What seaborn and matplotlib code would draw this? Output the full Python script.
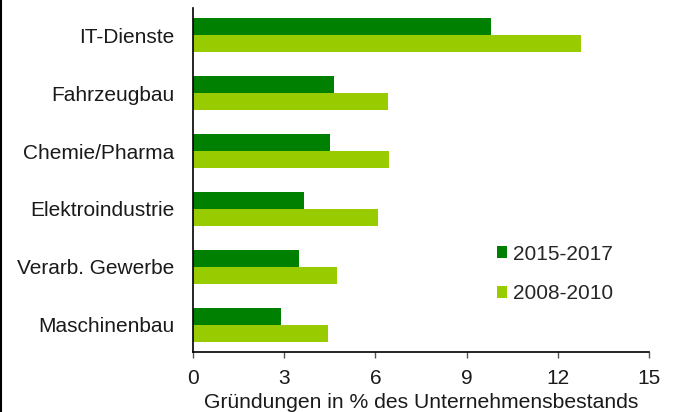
import matplotlib
matplotlib.use("Agg")
import matplotlib.pyplot as plt
from matplotlib.lines import Line2D
import pandas as pd
import seaborn as sns

# Industries and start-up rates (start-ups as % of existing firms)
branchen = ["IT-Dienste", "Fahrzeugbau", "Chemie/Pharma",
            "Elektroindustrie", "Verarb. Gewerbe", "Maschinenbau"]
werte_2015_2017 = [9.8, 4.65, 4.5, 3.65, 3.5, 2.9]
werte_2008_2010 = [12.75, 6.4, 6.45, 6.1, 4.75, 4.45]
zeitraeume = ["2015-2017", "2008-2010"]
farben = ["#008000", "#99CC00"]
x_ticks = [0, 3, 6, 9, 12, 15]
x_label = "Gründungen in % des Unternehmensbestands"

df = pd.DataFrame({
    "Branche": branchen * 2,
    "Wert": werte_2015_2017 + werte_2008_2010,
    "Zeitraum": [zeitraeume[0]] * len(branchen) + [zeitraeume[1]] * len(branchen),
})

sns.set_theme(style="white")
plt.rcParams["font.family"] = ["Liberation Sans", "DejaVu Sans"]

fig = plt.figure(figsize=(6.74, 4.12), dpi=100)
ax = fig.add_axes([193 / 674, 1 - 352 / 412, 456 / 674, 344 / 412])

sns.barplot(data=df, x="Wert", y="Branche", hue="Zeitraum", order=branchen,
            hue_order=zeitraeume, palette=farben, orient="h", width=0.57,
            saturation=1, edgecolor="none", linewidth=0, ax=ax, errorbar=None)

ax.set_xlim(0, 15)
ax.set_ylim(5.466, -0.466)
ax.set_xticks(x_ticks)
ax.set_xticklabels([str(t) for t in x_ticks])
ax.set_xlabel(x_label, fontsize=15.2, color="#1a1a1a", labelpad=3)
ax.set_ylabel("")

for side in ["top", "right"]:
    ax.spines[side].set_visible(False)
for side in ["left", "bottom"]:
    ax.spines[side].set_color("black")
    ax.spines[side].set_linewidth(1.2)

ax.tick_params(axis="x", direction="out", length=4, width=1, color="#555555",
               labelsize=15, labelcolor="#1a1a1a", pad=8.5, bottom=True)
ax.tick_params(axis="y", length=0, labelsize=15, labelcolor="#1a1a1a", pad=13.5)

handles, labels = ax.get_legend_handles_labels()
ax.legend(handles, labels, loc="center left",
          bbox_to_anchor=(497 / 674, 1 - 274 / 412),
          bbox_transform=fig.transFigure, frameon=False, fontsize=15,
          handlelength=0.5, handleheight=0.5, handletextpad=0.25,
          labelspacing=1.0, borderpad=0, borderaxespad=0)

# thin frame line along the left edge of the figure
fig.add_artist(Line2D([0.001, 0.001], [0, 1], transform=fig.transFigure,
                      color="black", linewidth=1.5))

fig.savefig("out.png", dpi=100)
